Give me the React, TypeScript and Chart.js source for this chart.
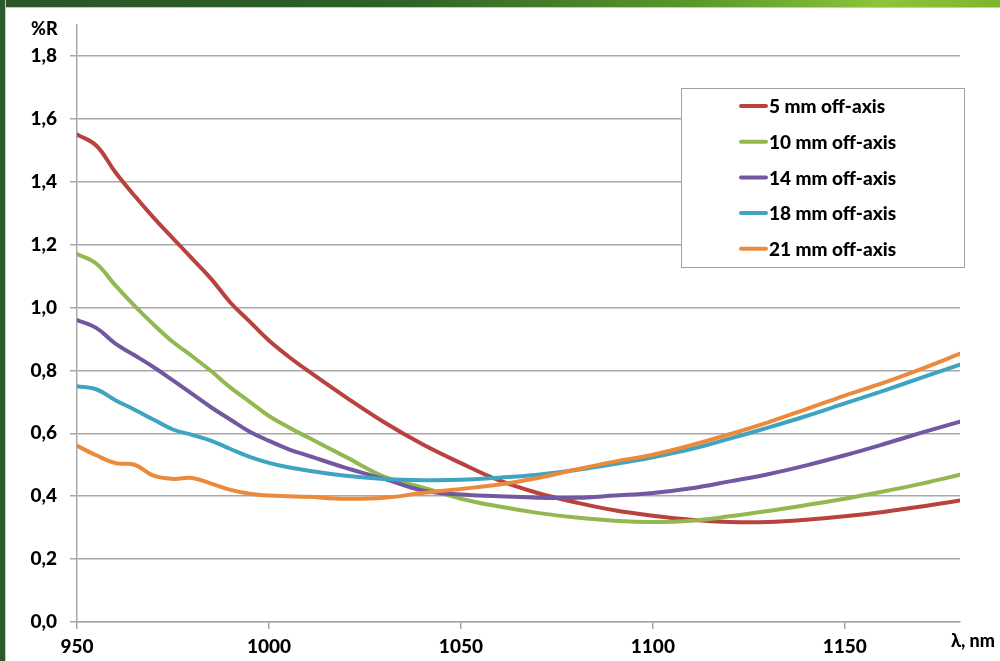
import React, { useEffect, useRef } from "react";
import { Chart, registerables } from "chart.js";

Chart.register(...registerables);

const wavelengths = [950, 955, 960, 965, 970, 975, 980, 985, 990, 995, 1000, 1005, 1010, 1020, 1030, 1040, 1050, 1060, 1070, 1080, 1090, 1100, 1110, 1120, 1130, 1140, 1150, 1160, 1170, 1180];

const off5 = [1.55, 1.515, 1.43, 1.355, 1.285, 1.22, 1.155, 1.09, 1.015, 0.955, 0.895, 0.845, 0.8, 0.715, 0.635, 0.565, 0.505, 0.45, 0.41, 0.38, 0.355, 0.338, 0.325, 0.318, 0.318, 0.325, 0.336, 0.35, 0.367, 0.386];
const off10 = [1.17, 1.14, 1.07, 1.005, 0.945, 0.89, 0.845, 0.797, 0.745, 0.7, 0.655, 0.62, 0.588, 0.525, 0.462, 0.428, 0.392, 0.367, 0.347, 0.332, 0.322, 0.318, 0.322, 0.336, 0.353, 0.372, 0.392, 0.415, 0.44, 0.468];
const off14 = [0.96, 0.935, 0.885, 0.848, 0.81, 0.768, 0.725, 0.682, 0.643, 0.605, 0.576, 0.55, 0.53, 0.49, 0.455, 0.418, 0.405, 0.4, 0.395, 0.395, 0.402, 0.41, 0.425, 0.447, 0.47, 0.498, 0.53, 0.565, 0.602, 0.637];
const off18 = [0.75, 0.74, 0.705, 0.675, 0.643, 0.612, 0.595, 0.576, 0.55, 0.525, 0.506, 0.492, 0.482, 0.465, 0.455, 0.451, 0.452, 0.459, 0.468, 0.483, 0.502, 0.524, 0.55, 0.583, 0.618, 0.655, 0.695, 0.735, 0.777, 0.818];
const off21 = [0.56, 0.53, 0.505, 0.5, 0.465, 0.455, 0.458, 0.44, 0.42, 0.408, 0.402, 0.4, 0.398, 0.392, 0.395, 0.41, 0.423, 0.437, 0.458, 0.485, 0.51, 0.532, 0.562, 0.597, 0.635, 0.677, 0.72, 0.76, 0.805, 0.853];

const seriesLabels = ["5 mm off-axis", "10 mm off-axis", "14 mm off-axis", "18 mm off-axis", "21 mm off-axis"];
const seriesValues = [off5, off10, off14, off18, off21];
const seriesColors = ["#b9423f", "#93b84f", "#7158a0", "#3fa4bf", "#ec8a3c"];

const yAxisTitle = "%R";
const xAxisTitle = "λ, nm";

const FONT = "Lato, 'Open Sans', sans-serif";
const GRID = "#a8a8a8";

const overlayPlugin = {
  id: "overlay",
  afterDraw(chart: any) {
    const ctx = chart.ctx;
    ctx.save();
    // axis titles
    ctx.fillStyle = "#000";
    ctx.font = `900 18px ${FONT}`;
    ctx.textAlign = "left";
    ctx.textBaseline = "middle";
    ctx.fillText(yAxisTitle, 31, 29);
    ctx.fillText(xAxisTitle, 951, 641);

    // legend box
    const bx = 681.5, by = 88.5, bw = 283, bh = 179;
    ctx.fillStyle = "#fff";
    ctx.fillRect(bx, by, bw, bh);
    ctx.strokeStyle = "#a0a0a0";
    ctx.lineWidth = 1;
    ctx.strokeRect(bx, by, bw, bh);
    const ds = chart.data.datasets;
    ctx.font = `900 19px ${FONT}`;
    for (let i = 0; i < ds.length; i++) {
      const cy = 106 + i * 35.7;
      ctx.strokeStyle = ds[i].borderColor;
      ctx.lineWidth = 4;
      ctx.lineCap = "round";
      ctx.beginPath();
      ctx.moveTo(741, cy);
      ctx.lineTo(766, cy);
      ctx.stroke();
      ctx.fillStyle = "#000";
      ctx.textAlign = "left";
      ctx.textBaseline = "middle";
      ctx.fillText(ds[i].label, 769, cy + 1);
    }
    ctx.restore();
  },
};

export default function App() {
  const canvasRef = useRef<HTMLCanvasElement | null>(null);

  useEffect(() => {
    const canvas = canvasRef.current;
    if (!canvas) return;
    const datasets = seriesLabels.map((label, i) => ({
      label,
      data: wavelengths.map((w, j) => ({ x: w, y: seriesValues[i][j] })),
      borderColor: seriesColors[i],
      backgroundColor: seriesColors[i],
      borderWidth: 4,
      pointRadius: 0,
      tension: 0.4,
      fill: false,
      borderCapStyle: "round" as const,
      borderJoinStyle: "round" as const,
      order: seriesLabels.length - i,
    }));
    const chart = new Chart(canvas, {
      type: "line",
      data: { datasets },
      options: {
        responsive: false,
        animation: false,
        devicePixelRatio: 1,
        layout: { padding: { top: 22, right: 40, left: 0, bottom: 0 } },
        plugins: { legend: { display: false }, tooltip: { enabled: false } },
        scales: {
          x: {
            type: "linear",
            min: 950,
            max: 1180,
            afterBuildTicks: (s: any) => {
              s.ticks = s.ticks.filter((t: any) => t.value <= 1150 + 1e-6);
            },
            afterFit: (s: any) => {
              s.height = 39;
            },
            ticks: {
              stepSize: 50,
              color: "#000",
              font: { family: FONT, size: 19, weight: "900" },
              padding: 6,
              maxRotation: 0,
              autoSkip: false,
              callback: (v: any) => String(v),
            },
            grid: { drawOnChartArea: false, tickLength: 7, tickColor: GRID, lineWidth: 1.5 },
            border: { color: GRID, width: 1.5 },
          },
          y: {
            min: 0,
            max: 1.9,
            afterBuildTicks: (s: any) => {
              s.ticks = s.ticks.filter((t: any) => t.value <= 1.8 + 1e-6);
            },
            afterFit: (s: any) => {
              s.width = 77;
            },
            ticks: {
              stepSize: 0.2,
              color: "#000",
              font: { family: FONT, size: 19, weight: "900" },
              padding: 13,
              autoSkip: false,
              callback: (v: any) => Number(v).toFixed(1).replace(".", ","),
            },
            grid: { color: GRID, lineWidth: 1.5, tickLength: 7, tickColor: GRID },
            border: { color: GRID, width: 1.5 },
          },
        },
      },
      plugins: [overlayPlugin],
    });
    return () => chart.destroy();
  }, []);

  return (
    <div style={{ position: "absolute", left: 0, top: 0, width: 1000, height: 661, background: "#fff", overflow: "hidden" }}>
      <div
        style={{
          position: "absolute",
          left: 0,
          top: 0,
          width: 1000,
          height: 7,
          background: "linear-gradient(90deg, #2a5526 0%, #2f6128 40%, #5a9a2a 70%, #8cc43a 88%, #7db52e 100%)",
          borderBottom: "1px solid #c8c8c8",
        }}
      />
      <div
        style={{
          position: "absolute",
          left: 0,
          top: 0,
          width: 5,
          height: 661,
          background: "#2c5a2a",
          borderRight: "1px solid #c8c8c8",
        }}
      />
      <canvas
        ref={canvasRef}
        width={1000}
        height={661}
        style={{ position: "absolute", left: 0, top: 0, width: 1000, height: 661 }}
      />
    </div>
  );
}
